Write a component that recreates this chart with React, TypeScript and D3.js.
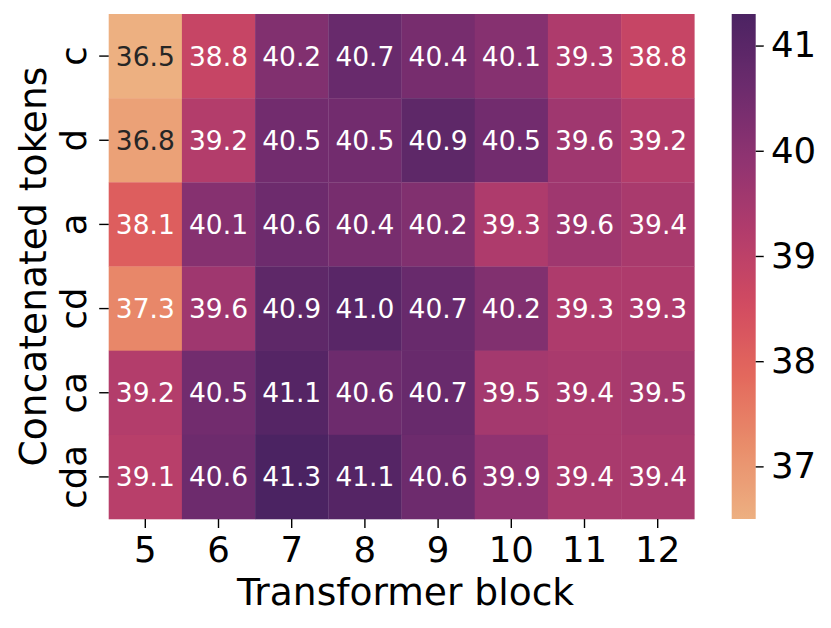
import React, { useEffect, useRef } from "react";
import * as d3 from "d3";

const blocks = ["5", "6", "7", "8", "9", "10", "11", "12"];
const tokens = ["c", "d", "a", "cd", "ca", "cda"];

const rowC = [36.5, 38.8, 40.2, 40.7, 40.4, 40.1, 39.3, 38.8];
const rowD = [36.8, 39.2, 40.5, 40.5, 40.9, 40.5, 39.6, 39.2];
const rowA = [38.1, 40.1, 40.6, 40.4, 40.2, 39.3, 39.6, 39.4];
const rowCD = [37.3, 39.6, 40.9, 41.0, 40.7, 40.2, 39.3, 39.3];
const rowCA = [39.2, 40.5, 41.1, 40.6, 40.7, 39.5, 39.4, 39.5];
const rowCDA = [39.1, 40.6, 41.3, 41.1, 40.6, 39.9, 39.4, 39.4];

const colorTicks = [37, 38, 39, 40, 41];

// seaborn "flare" anchor colours
const flare = ["#edb081", "#e98d6b", "#e3685c", "#d14a61", "#b13c6c", "#8f3371", "#6c2b6d", "#4b2362"];

const W = 831;
const H = 628;
const hm = { left: 108.7, right: 694.3, top: 14, bottom: 519 };
const cb = { left: 731.7, right: 755.7 };
const FONT = "DejaVu Sans";
const TICK_FS = 35.5;

const lum = (c: string) => {
  const { r, g, b } = d3.rgb(c);
  const f = (v: number) => {
    v /= 255;
    return v <= 0.03928 ? v / 12.92 : Math.pow((v + 0.055) / 1.055, 2.4);
  };
  return 0.2126 * f(r) + 0.7152 * f(g) + 0.0722 * f(b);
};

const App = () => {
  const ref = useRef<SVGSVGElement>(null);

  useEffect(() => {
    const svg = d3.select(ref.current);
    svg.selectAll("*").remove();

    const rows = [rowC, rowD, rowA, rowCD, rowCA, rowCDA];
    const cells = rows.flatMap((vals, i) => vals.map((v, j) => ({ row: tokens[i], col: blocks[j], v })));
    const vmin = d3.min(cells, (d) => d.v) as number;
    const vmax = d3.max(cells, (d) => d.v) as number;

    const t = d3.scaleLinear().domain([vmin, vmax]).range([0, 1]).clamp(true);
    const cmap = d3
      .scaleLinear<string>()
      .domain(flare.map((_, i) => i / (flare.length - 1)))
      .range(flare)
      .interpolate(d3.interpolateRgb);
    const color = (v: number) => cmap(t(v));

    const x = d3.scaleBand().domain(blocks).range([hm.left, hm.right]);
    const y = d3.scaleBand().domain(tokens).range([hm.top, hm.bottom]);

    // cells
    svg
      .append("g")
      .selectAll("rect")
      .data(cells)
      .enter()
      .append("rect")
      .attr("x", (d) => x(d.col)!)
      .attr("y", (d) => y(d.row)!)
      .attr("width", x.bandwidth() + 0.3)
      .attr("height", y.bandwidth() + 0.3)
      .attr("fill", (d) => color(d.v));

    svg
      .append("g")
      .selectAll("text")
      .data(cells)
      .enter()
      .append("text")
      .attr("x", (d) => x(d.col)! + x.bandwidth() / 2)
      .attr("y", (d) => y(d.row)! + y.bandwidth() / 2)
      .attr("dy", "0.36em")
      .attr("text-anchor", "middle")
      .attr("font-family", FONT)
      .attr("font-size", 26.5)
      .attr("fill", (d) => (lum(color(d.v)) > 0.408 ? "#262626" : "#ffffff"))
      .text((d) => d3.format(".1f")(d.v));

    // axes
    const xAxis = svg
      .append("g")
      .attr("transform", `translate(0,${hm.bottom})`)
      .call(d3.axisBottom(x).tickSize(9).tickPadding(8.7));
    const yAxis = svg
      .append("g")
      .attr("transform", `translate(${hm.left},0)`)
      .call(d3.axisLeft(y).tickSize(9.5).tickPadding(0));
    [xAxis, yAxis].forEach((a) => {
      a.select(".domain").remove();
      a.selectAll("line").attr("stroke", "#000").attr("stroke-width", 1.4);
      a.selectAll("text").attr("font-family", FONT).attr("font-size", TICK_FS).attr("fill", "#000");
    });
    xAxis.selectAll("text").attr("dy", "0.71em");
    yAxis
      .selectAll("text")
      .attr("text-anchor", "middle")
      .attr("x", 0)
      .attr("dy", 0)
      .attr("transform", "translate(-22.7,0) rotate(-90)");

    svg
      .append("text")
      .attr("x", (hm.left + hm.right) / 2 + 4)
      .attr("y", 605)
      .attr("text-anchor", "middle")
      .attr("font-family", FONT)
      .attr("font-size", 37.6)
      .text("Transformer block");

    svg
      .append("text")
      .attr("transform", `translate(46,${(hm.top + hm.bottom) / 2}) rotate(-90)`)
      .attr("text-anchor", "middle")
      .attr("font-family", FONT)
      .attr("font-size", 37.6)
      .text("Concatenated tokens");

    // colorbar
    const cbY = d3.scaleLinear().domain([vmin, vmax]).range([hm.bottom, hm.top]);
    const grad = svg
      .append("defs")
      .append("linearGradient")
      .attr("id", "cbar")
      .attr("x1", 0)
      .attr("y1", 1)
      .attr("x2", 0)
      .attr("y2", 0);
    grad
      .selectAll("stop")
      .data(d3.range(0, 1.0001, 0.02))
      .enter()
      .append("stop")
      .attr("offset", (d) => d)
      .attr("stop-color", (d) => cmap(d));
    svg
      .append("rect")
      .attr("x", cb.left)
      .attr("y", hm.top)
      .attr("width", cb.right - cb.left)
      .attr("height", hm.bottom - hm.top)
      .attr("fill", "url(#cbar)");

    const cAxis = svg
      .append("g")
      .attr("transform", `translate(${cb.right},0)`)
      .call(d3.axisRight(cbY).tickValues(colorTicks).tickFormat(d3.format("d")).tickSize(8).tickPadding(7.3));
    cAxis.select(".domain").remove();
    cAxis.selectAll("line").attr("stroke", "#000").attr("stroke-width", 1.4);
    cAxis.selectAll("text").attr("font-family", FONT).attr("font-size", TICK_FS).attr("fill", "#000");
  }, []);

  return (
    <svg
      ref={ref}
      width={W}
      height={H}
      style={{ position: "absolute", left: 0, top: 0, background: "#fff" }}
    />
  );
};

export default App;
